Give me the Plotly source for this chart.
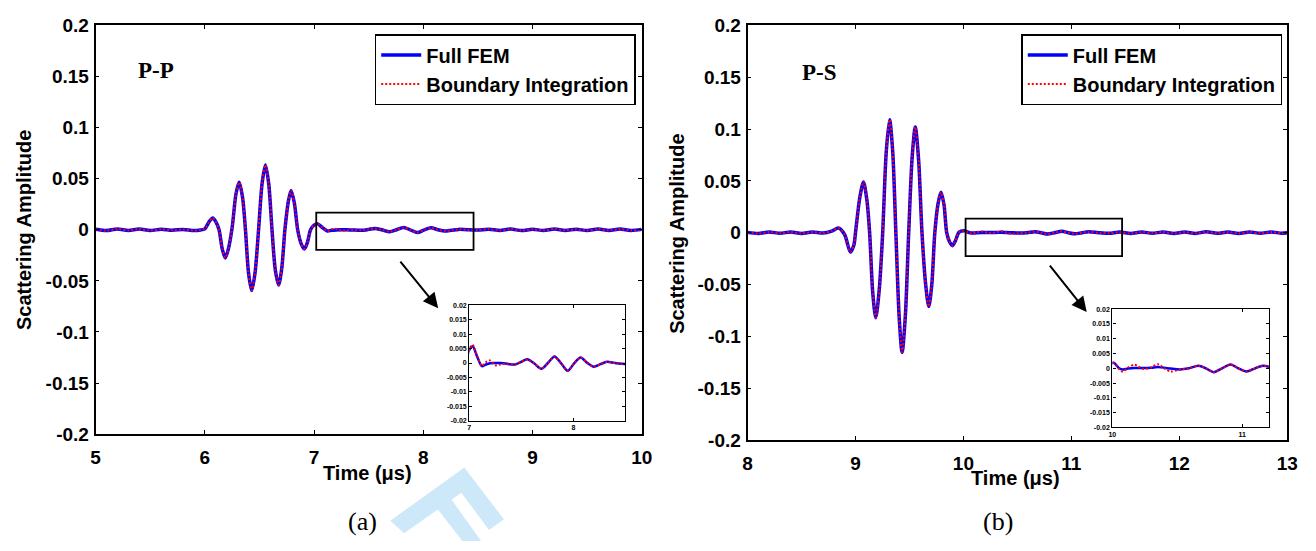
import plotly.graph_objects as go

W, H = 1316, 551

# ---- P-P scattered signal (time in microseconds) ----
t_pp = [5.0, 5.1, 5.2, 5.3, 5.4, 5.5, 5.6, 5.7, 5.8, 5.9, 5.96, 6.0, 6.04, 6.073, 6.1,
        6.13, 6.16, 6.187, 6.215, 6.25, 6.285, 6.314, 6.345, 6.372, 6.40, 6.429, 6.46,
        6.492, 6.525, 6.555, 6.585, 6.615, 6.645, 6.676, 6.705, 6.733, 6.765, 6.79, 6.82,
        6.85, 6.88, 6.911, 6.94, 6.968, 7.0, 7.032, 7.079, 7.121, 7.16, 7.2, 7.25, 7.3,
        7.35, 7.44, 7.5, 7.556, 7.62, 7.692, 7.755, 7.819, 7.88, 7.946, 8.01, 8.07, 8.135,
        8.197, 8.26, 8.324, 8.4, 8.5, 8.6, 8.7, 8.8, 8.9, 9.0, 9.1, 9.2, 9.3, 9.4, 9.5,
        9.6, 9.7, 9.8, 9.9, 10.0]
fem_pp = [0.0005, -0.0008, 0.0008, -0.0006, 0.0007, -0.0008, 0.0006, -0.0005, 0.0004, -0.0008,
          -0.0002, 0.001, 0.008, 0.0115, 0.008, 0.0, -0.019, -0.0275, -0.019, 0.002, 0.035,
          0.0465, 0.032, 0.0, -0.042, -0.0595, -0.042, 0.0, 0.046, 0.0635, 0.045, 0.0, -0.039,
          -0.054, -0.037, 0.0, 0.028, 0.0385, 0.026, 0.0, -0.013, -0.0188, -0.012, 0.0, 0.0045,
          0.0058, 0.0019, -0.0011, -0.0005, -0.0001, 0.0, 0.0, -0.0002, -0.0005, 0.0004, 0.0013,
          0.0, -0.002, 0.0, 0.0023, 0.0, -0.0027, 0.0, 0.0019, 0.0, -0.0013, -0.0004, 0.0004,
          0.0, -0.0003, 0.0006, -0.0007, 0.0007, -0.0008, 0.0005, -0.0007, 0.0008, -0.0006,
          0.0006, -0.0008, 0.0007, -0.0006, 0.0008, -0.0007, 0.0004]
bi_pp = [0.0005, -0.0008, 0.0008, -0.0006, 0.0007, -0.0008, 0.0006, -0.0005, 0.0004, -0.0008,
         -0.0002, 0.001, 0.008, 0.0115, 0.008, 0.0, -0.019, -0.0275, -0.019, 0.002, 0.035,
         0.0465, 0.032, 0.0, -0.042, -0.0595, -0.042, 0.0, 0.046, 0.0635, 0.045, 0.0, -0.039,
         -0.054, -0.037, 0.0, 0.028, 0.0385, 0.026, 0.0, -0.013, -0.0188, -0.012, 0.0, 0.0048,
         0.0063, 0.0021, -0.0010, 0.0003, 0.0009, -0.0008, -0.0005, -0.0002, -0.0005, 0.0004,
         0.0013, 0.0, -0.002, 0.0, 0.0023, 0.0, -0.0027, 0.0, 0.0019, 0.0, -0.0013, -0.0004,
         0.0004, 0.0, -0.0003, 0.0006, -0.0007, 0.0007, -0.0008, 0.0005, -0.0007, 0.0008,
         -0.0006, 0.0006, -0.0008, 0.0007, -0.0006, 0.0008, -0.0007, 0.0004]

# ---- P-S scattered signal ----
t_ps = [8.0, 8.1, 8.2, 8.3, 8.4, 8.5, 8.6, 8.7, 8.78, 8.843, 8.9, 8.952, 8.985, 9.0, 9.04,
        9.074, 9.105, 9.131, 9.16, 9.188, 9.22, 9.252, 9.285, 9.316, 9.345, 9.374, 9.405,
        9.432, 9.462, 9.493, 9.525, 9.554, 9.585, 9.616, 9.65, 9.679, 9.707, 9.735, 9.765,
        9.792, 9.82, 9.845, 9.872, 9.899, 9.925, 9.96, 10.01, 10.053, 10.08, 10.12, 10.17,
        10.24, 10.3, 10.35, 10.4, 10.45, 10.52, 10.59, 10.664, 10.72, 10.779, 10.845, 10.911,
        10.97, 11.033, 11.1, 11.16, 11.25, 11.35, 11.45, 11.55, 11.65, 11.75, 11.85, 11.95,
        12.05, 12.15, 12.25, 12.35, 12.45, 12.55, 12.65, 12.75, 12.85, 12.95, 13.0]
fem_ps = [0.0003, -0.0008, 0.0007, -0.0006, 0.0007, -0.0007, 0.0006, -0.0004, 0.0015, 0.0045,
          -0.002, -0.0187, -0.012, 0.0, 0.034, 0.049, 0.032, 0.0, -0.058, -0.082, -0.055, 0.0,
          0.078, 0.109, 0.078, 0.0, -0.082, -0.1155, -0.08, 0.0, 0.073, 0.102, 0.07, 0.0,
          -0.05, -0.0713, -0.05, 0.0, 0.028, 0.039, 0.027, 0.0, -0.009, -0.0125, -0.008, 0.0005,
          0.0019, 0.0, -0.0004, -0.0001, 0.0001, 0.0001, 0.0002, 0.0004, 0.0002, -0.0001,
          -0.0004, 0.0, 0.0009, 0.0, -0.0013, 0.0, 0.0013, 0.0, -0.0011, 0.0, 0.0009, 0.0,
          -0.0006, 0.0006, -0.0008, 0.0007, -0.0006, 0.0007, -0.0008, 0.0006, -0.0007, 0.0008,
          -0.0006, 0.0006, -0.0008, 0.0007, -0.0006, 0.0007, -0.0005, 0.0]
bi_ps = [0.0003, -0.0008, 0.0007, -0.0006, 0.0007, -0.0007, 0.0006, -0.0004, 0.0015, 0.0045,
         -0.002, -0.0187, -0.012, 0.0, 0.034, 0.049, 0.032, 0.0, -0.058, -0.082, -0.055, 0.0,
         0.078, 0.109, 0.078, 0.0, -0.082, -0.1155, -0.08, 0.0, 0.073, 0.102, 0.07, 0.0,
         -0.05, -0.0713, -0.05, 0.0, 0.028, 0.039, 0.027, 0.0, -0.009, -0.0125, -0.008, 0.0005,
         0.0019, -0.0003, -0.0011, 0.0002, 0.0012, -0.0002, 0.0003, 0.0014, 0.0, -0.0011,
         -0.0004, 0.0, 0.0009, 0.0, -0.0013, 0.0, 0.0013, 0.0, -0.0011, 0.0, 0.0009, 0.0,
         -0.0006, 0.0006, -0.0008, 0.0007, -0.0006, 0.0007, -0.0008, 0.0006, -0.0007, 0.0008,
         -0.0006, 0.0006, -0.0008, 0.0007, -0.0006, 0.0007, -0.0005, 0.0]

# ---- tick values / labels ----
main_yticks = [0.2, 0.15, 0.1, 0.05, 0, -0.05, -0.1, -0.15, -0.2]
main_yticklabels = ["0.2", "0.15", "0.1", "0.05", "0", "-0.05", "-0.1", "-0.15", "-0.2"]
inset_yticks = [0.02, 0.015, 0.01, 0.005, 0, -0.005, -0.01, -0.015, -0.02]
inset_yticklabels = ["0.02", "0.015", "0.01", "0.005", "0", "-0.005", "-0.01", "-0.015", "-0.02"]
pp_xticks = [5, 6, 7, 8, 9, 10]
ps_xticks = [8, 9, 10, 11, 12, 13]
pp_inset_xticks = [7, 8]
ps_inset_xticks = [10, 11]

series_names = ["Full FEM", "Boundary Integration"]
panel_labels = ["P-P", "P-S"]
caption_labels = ["(a)", "(b)"]
y_title = "Scattering Amplitude"
x_title = "Time (\u03bcs)"

BLUE = "#0000ff"
RED = "#ff0000"
SANS = "Liberation Sans"
SERIF = "Liberation Serif"


def px(x):
    return x / W


def py(y):
    return 1 - y / H


def bold(labels):
    return [f"<b>{s}</b>" for s in labels]


fig = go.Figure()

panels = [
    dict(t=t_pp, fem=fem_pp, bi=bi_pp, xa="x", ya="y", ixa="x3", iya="y3", legend="legend"),
    dict(t=t_ps, fem=fem_ps, bi=bi_ps, xa="x2", ya="y2", ixa="x4", iya="y4", legend="legend2"),
]
for p in panels:
    fig.add_trace(go.Scatter(x=p["t"], y=p["fem"], mode="lines", name=series_names[0],
                             line=dict(color=BLUE, width=3.5, shape="spline", smoothing=0.8),
                             xaxis=p["xa"], yaxis=p["ya"], legend=p["legend"]))
    fig.add_trace(go.Scatter(x=p["t"], y=p["bi"], mode="lines", name=series_names[1],
                             line=dict(color=RED, width=2, dash="2px,2px", shape="spline",
                                       smoothing=0.8),
                             xaxis=p["xa"], yaxis=p["ya"], legend=p["legend"]))
    fig.add_trace(go.Scatter(x=p["t"], y=p["fem"], mode="lines", showlegend=False,
                             line=dict(color=BLUE, width=2.5, shape="spline", smoothing=0.8),
                             xaxis=p["ixa"], yaxis=p["iya"]))
    fig.add_trace(go.Scatter(x=p["t"], y=p["bi"], mode="lines", showlegend=False,
                             line=dict(color=RED, width=2, dash="2px,2px", shape="spline",
                                       smoothing=0.8),
                             xaxis=p["ixa"], yaxis=p["iya"]))

main_axis = dict(showgrid=False, zeroline=False, showline=True, linecolor="black",
                 linewidth=1.8, mirror="ticks", ticks="inside", ticklen=4, tickwidth=1,
                 tickcolor="black",
                 tickfont=dict(family=SANS, size=19, color="black"))
inset_axis = dict(showgrid=False, zeroline=False, showline=True, linecolor="black",
                  linewidth=1.3, mirror="ticks", ticks="inside", ticklen=3, tickwidth=1,
                  tickcolor="black",
                  tickfont=dict(family=SANS, size=7, color="black"))

fig.update_layout(
    xaxis=dict(main_axis, domain=[px(91.7), px(644.6)], range=[5, 10], anchor="y",
               tickvals=pp_xticks, ticktext=bold(str(v) for v in pp_xticks),
               ticklabelstandoff=5),
    yaxis=dict(main_axis, domain=[py(441), py(16)], range=[-0.2, 0.2], anchor="x",
               tickvals=main_yticks, ticktext=bold(main_yticklabels), ticklabelstandoff=1),
    xaxis2=dict(main_axis, domain=[px(751.7), px(1298)], range=[8, 13], anchor="y2",
                tickvals=ps_xticks, ticktext=bold(str(v) for v in ps_xticks),
                ticklabelstandoff=5),
    yaxis2=dict(main_axis, domain=[py(447), py(16)], range=[-0.2, 0.2], anchor="x2",
                tickvals=main_yticks, ticktext=bold(main_yticklabels), ticklabelstandoff=1),
    xaxis3=dict(inset_axis, domain=[px(470), px(628)], range=[7, 8.5], anchor="y3",
                tickvals=pp_inset_xticks, ticktext=bold(str(v) for v in pp_inset_xticks)),
    yaxis3=dict(inset_axis, domain=[py(427), py(307)], range=[-0.02, 0.02], anchor="x3",
                tickvals=inset_yticks, ticktext=bold(inset_yticklabels)),
    xaxis4=dict(inset_axis, domain=[px(1121), px(1280)], range=[10, 11.21], anchor="y4",
                tickvals=ps_inset_xticks, ticktext=bold(str(v) for v in ps_inset_xticks)),
    yaxis4=dict(inset_axis, domain=[py(434), py(311)], range=[-0.02, 0.02], anchor="x4",
                tickvals=inset_yticks, ticktext=bold(inset_yticklabels)),
)

legend_style = dict(bgcolor="white", bordercolor="black", borderwidth=1.5,
                    font=dict(family=SANS, size=20, color="black", weight="bold"),
                    xanchor="right", yanchor="top", tracegroupgap=0, itemwidth=40)
fig.update_layout(
    legend=dict(legend_style, x=px(638.5), y=py(25)),
    legend2=dict(legend_style, x=px(1293), y=py(25)),
)

# zoom boxes in the main panels
fig.add_shape(type="rect", xref="x", yref="y", x0=7.02, x1=8.46, y0=-0.0196, y1=0.0168,
              line=dict(color="black", width=1.8))
fig.add_shape(type="rect", xref="x2", yref="y2", x0=10.02, x1=11.47, y0=-0.0227, y1=0.0135,
              line=dict(color="black", width=1.8))

# arrows from the zoom boxes to the insets
for tip, start in [((438.5, 310), (399.5, 262)), ((1095, 314), (1057, 266))]:
    fig.add_annotation(x=px(tip[0]), y=py(tip[1]), xref="paper", yref="paper",
                       ax=start[0] - tip[0], ay=start[1] - tip[1], text="",
                       showarrow=True, arrowhead=2, arrowsize=1.5, arrowwidth=2,
                       arrowcolor="black")

# light-blue logo mark at the bottom
logo_outer = [(390, 531), (465, 475.5), (505, 529.5), (490, 540.5), (462, 502), (404, 544)]
logo_bar = [(438, 519), (452, 509), (482, 552), (463, 552)]
for poly in (logo_outer, logo_bar):
    path = "M " + " L ".join(f"{px(a):.5f} {py(b):.5f}" for a, b in poly) + " Z"
    fig.add_shape(type="path", xref="paper", yref="paper", path=path,
                  fillcolor="#cde9f9", line=dict(width=0), layer="below")

# text labels
texts = [
    (panel_labels[0], 153, 63, SERIF, 23, "bold", 0),
    (panel_labels[1], 825, 65, SERIF, 23, "bold", 0),
    (caption_labels[0], 362, 532, SERIF, 26, "normal", 0),
    (caption_labels[1], 1005, 532, SERIF, 26, "normal", 0),
    (y_title, 20, 229, SANS, 20, "bold", -90),
    (y_title, 680, 233, SANS, 20, "bold", -90),
    (x_title, 366.5, 481, SANS, 20, "bold", 0),
    (x_title, 1023, 486.5, SANS, 20, "bold", 0),
]
for txt, x, y, fam, size, weight, ang in texts:
    fig.add_annotation(x=px(x), y=py(y), xref="paper", yref="paper", text=txt,
                       showarrow=False, textangle=ang, xanchor="center", yanchor="middle",
                       font=dict(family=fam, size=size, color="black", weight=weight))

fig.update_layout(width=W, height=H, margin=dict(l=0, r=0, t=0, b=0),
                  paper_bgcolor="white", plot_bgcolor="white")

fig.write_html("out.html")
